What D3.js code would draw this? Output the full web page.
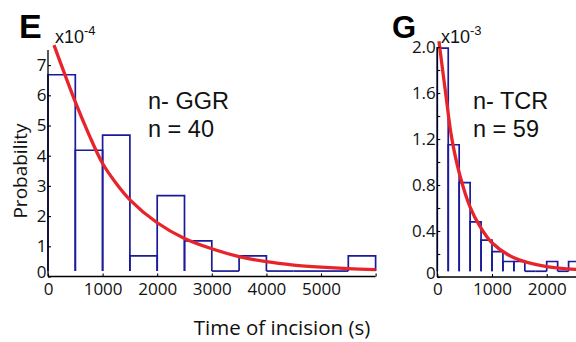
<!DOCTYPE html>
<html>
<head>
<meta charset="utf-8">
<script src="https://cdn.jsdelivr.net/npm/d3@7"></script>
<style>
  html, body { margin: 0; padding: 0; background: #fff; }
  svg { display: block; }
  .tick-label { font-family: "Open Sans", sans-serif; font-size: 17px; fill: #111; }
  .axis-title { font-family: "Open Sans", sans-serif; fill: #111; }
  .note { font-family: "Liberation Sans", Arial, sans-serif; font-size: 23.5px; fill: #111; }
  .panel { font-family: "Liberation Sans", Arial, sans-serif; font-weight: bold; fill: #000; }
  .exp { font-family: "Liberation Sans", Arial, sans-serif; fill: #111; }
</style>
</head>
<body>
<svg id="chart" width="576" height="342"></svg>
<script>
// ---- Panel E: n- GGR, time of incision histogram (probability x10^-4), 500 s bins ----
const binWidthE = 500;
const binStartsE = [0, 500, 1000, 1500, 2000, 2500, 3000, 3500, 4000, 4500, 5000, 5500];
const probE = [6.5, 4.0, 4.5, 0.5, 2.5, 1.0, 0, 0.5, 0, 0, 0, 0.5];
// exponential fit curve, sampled (time s, probability x10^-4)
const fitTimeE = [110, 500, 750, 1000, 1250, 1500, 2000, 2500, 3000, 3500, 4000, 4500, 5000, 5500, 6000];
const fitProbE = [7.48, 5.6, 4.52, 3.56, 2.9, 2.36, 1.6, 1.08, 0.74, 0.48, 0.31, 0.2, 0.13, 0.08, 0.05];
const xTicksE = [0, 1000, 2000, 3000, 4000, 5000, 6000];
const xTickLabelsE = ["0", "1000", "2000", "3000", "4000", "5000", ""];
const yTicksE = [0, 1, 2, 3, 4, 5, 6, 7];
const yTickLabelsE = ["0", "1", "2", "3", "4", "5", "6", "7"];

// ---- Panel G: n- TCR, time of incision histogram (probability x10^-3), 200 s bins ----
const binWidthG = 200;
const binStartsG = [0, 200, 400, 600, 800, 1000, 1200, 1400, 1600, 1800, 2000, 2200, 2400];
const probG = [1.94, 1.10, 0.77, 0.43, 0.27, 0.17, 0.085, 0.085, 0, 0, 0.085, 0, 0.085];
const fitTimeG = [30, 160, 263, 415, 598, 780, 994, 1390, 2000, 2600];
const fitProbG = [2.00, 1.52, 1.16, 0.83, 0.56, 0.39, 0.25, 0.12, 0.04, 0.015];
const xTicksG = [0, 1000, 2000, 3000];
const xTickLabelsG = ["0", "1000", "2000", ""];
const yTicksG = [0, 0.2, 0.4, 0.6, 0.8, 1.0, 1.2, 1.4, 1.6, 1.8, 2.0];
const yTickLabelsG = ["0", "", "0.4", "", "0.8", "", "1.2", "", "1.6", "", "2.0"];

const barColor = "#1a1a9a";
const fitColor = "#e8242b";

const svg = d3.select("#chart");

function drawPanel(cfg) {
  const g = svg.append("g");
  const x = cfg.x, y = cfg.y;
  const base = cfg.base; // histogram outline baseline sits slightly above the axis

  // histogram outlines: open at the bottom, empty bins show as a flat line
  g.append("g").selectAll("path")
    .data(cfg.starts.map((s, i) => ({ s, v: cfg.probs[i] })))
    .join("path")
    .attr("d", d => `M${x(d.s)},${y(base)}V${y(base + d.v)}H${x(d.s + cfg.binWidth)}V${y(base)}`)
    .attr("fill", "none")
    .attr("stroke", barColor)
    .attr("stroke-width", 1.7);

  // fitted curve
  const pts = cfg.fitT.map((t, i) => [t, cfg.fitP[i]]);
  g.append("path")
    .datum(pts)
    .attr("fill", "none")
    .attr("stroke", fitColor)
    .attr("stroke-width", 3.3)
    .attr("d", d3.line().x(d => x(d[0])).y(d => y(base + d[1])).curve(d3.curveCatmullRom.alpha(0.5)));

  // axes (ticks point inward)
  const yAxis = d3.axisLeft(y).tickValues(cfg.yTicks).tickSize(-3).tickFormat((d, i) => cfg.yLabels[i]).tickPadding(4);
  const ya = g.append("g").attr("transform", `translate(${x.range()[0]},0)`).call(yAxis);
  const xAxis = d3.axisBottom(x).tickValues(cfg.xTicks).tickSize(-3).tickFormat((d, i) => cfg.xLabels[i]).tickPadding(8);
  const xa = g.append("g").attr("transform", `translate(0,${y.range()[0]})`).call(xAxis);

  [ya, xa].forEach(a => {
    a.select(".domain").attr("stroke", "#000").attr("stroke-width", 1.3);
    a.selectAll(".tick line").attr("stroke", "#000").attr("stroke-width", 1.1);
    a.selectAll(".tick text").attr("class", "tick-label").attr("fill", "#111");
  });
  ya.select(".domain").attr("d", `M0,${y.range()[0]}V${y.range()[1]}`);
  xa.select(".domain").attr("d", `M${x.range()[0]},0H${x.range()[1]}`);
  // the zero label sits a little higher than its tick
  ya.selectAll(".tick").filter(d => d === 0).select("text").attr("y", -4);
  ya.selectAll(".tick text").attr("x", -1.5);
  xa.selectAll(".tick text").attr("dy", "0.71em").attr("y", 6);

  // exponent label above the y axis
  const exp = g.append("text").attr("class", "exp").attr("x", cfg.expX).attr("y", 43).attr("font-size", 18);
  exp.append("tspan").text("x10");
  exp.append("tspan").attr("font-size", 13).attr("dy", -8).text(cfg.expPow);

  // panel letter
  g.append("text").attr("class", "panel").attr("x", cfg.letterX).attr("y", 38)
    .attr("font-size", cfg.letterSize).text(cfg.letter);

  // group annotation
  g.append("text").attr("class", "note").attr("x", cfg.noteX).attr("y", 108.5).text(cfg.note1);
  g.append("text").attr("class", "note").attr("x", cfg.noteX).attr("y", 137).text(cfg.note2);
}

drawPanel({
  x: d3.scaleLinear().domain([0, 6000]).range([48, 375.6]),
  y: d3.scaleLinear().domain([0, 7.5]).range([276.5, 50]),
  base: 0.18,
  binWidth: binWidthE, starts: binStartsE, probs: probE,
  fitT: fitTimeE, fitP: fitProbE,
  xTicks: xTicksE, xLabels: xTickLabelsE, yTicks: yTicksE, yLabels: yTickLabelsE,
  expX: 55, expPow: "-4",
  letter: "E", letterX: 19, letterSize: 34,
  noteX: 148, note1: "n- GGR", note2: "n = 40"
});

drawPanel({
  x: d3.scaleLinear().domain([0, 3000]).range([437.3, 601.4]),
  y: d3.scaleLinear().domain([0, 2.0]).range([277, 47]),
  base: 0.05,
  binWidth: binWidthG, starts: binStartsG, probs: probG,
  fitT: fitTimeG, fitP: fitProbG,
  xTicks: xTicksG, xLabels: xTickLabelsG, yTicks: yTicksG, yLabels: yTickLabelsG,
  expX: 441, expPow: "-3",
  letter: "G", letterX: 392, letterSize: 31,
  noteX: 473, note1: "n- TCR", note2: "n = 59"
});

// shared axis titles
svg.append("text").attr("class", "axis-title").attr("font-size", 19)
  .attr("transform", "translate(27,171) rotate(-90)")
  .attr("text-anchor", "middle").text("Probability");
svg.append("text").attr("class", "axis-title").attr("font-size", 20.5)
  .attr("x", 282).attr("y", 335).attr("text-anchor", "middle").text("Time of incision (s)");
</script>
</body>
</html>
